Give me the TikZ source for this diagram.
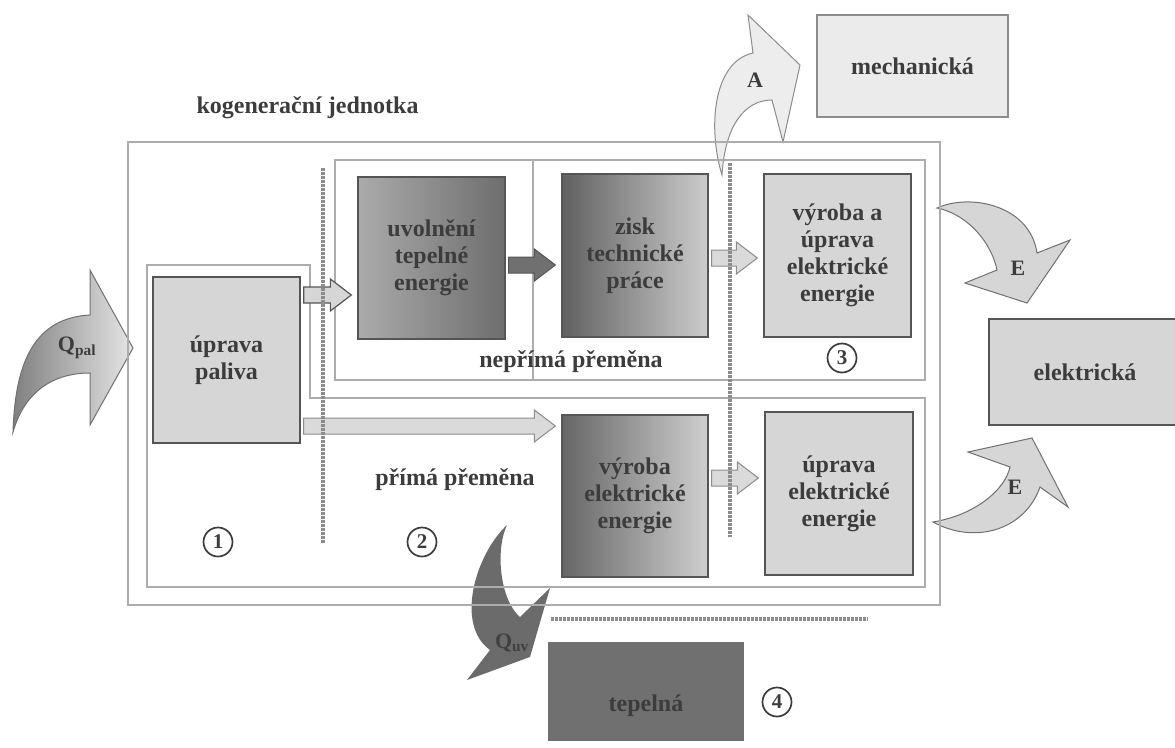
\documentclass[tikz,border=0pt]{standalone}
\usepackage{fontspec}
\setmainfont{Liberation Serif}
\usetikzlibrary{calc}

\definecolor{ink}{HTML}{3C3C3C}
\definecolor{boxline}{HTML}{555555}
\definecolor{boxfill}{HTML}{D6D6D6}
\definecolor{frameline}{HTML}{ADADAD}
\definecolor{dotgray}{HTML}{8C8C8C}
\definecolor{darkfill}{HTML}{707070}

\newcommand{\barrow}[4]{%
  \draw[#1] let \p1=(#2), \p2=(#3) in
    ({\x1+3pt},{\y2-(#4)+8pt}) -- ({\x2-27pt},{\y2-(#4)+8pt})
    -- ({\x2-27pt},{\y2-(#4)+16pt}) -- ({\x2-6pt},{\y2-(#4)})
    -- ({\x2-27pt},{\y2-(#4)-16pt}) -- ({\x2-27pt},{\y2-(#4)-8pt})
    -- ({\x1+3pt},{\y2-(#4)-8pt}) -- cycle;}

\tikzset{
  txt/.style={text=ink,font=\fontsize{24}{27}\selectfont\bfseries,align=center},
  stagebox/.style={txt,draw=boxline,line width=1.3pt,inner sep=0pt},
  litebox/.style={stagebox,fill=boxfill},
  frame/.style={draw=frameline,line width=1.6pt},
  dotline/.style={draw=dotgray,line width=3.5pt,dash pattern=on 2.5pt off 1.5pt},
  numcirc/.style={circle,draw=ink,line width=1.7pt,inner sep=0pt,minimum size=29pt,
    text=ink,font=\fontsize{21}{21}\selectfont\bfseries},
  litearrow/.style={fill=boxfill,draw=boxline,line width=1.2pt},
  palearrow/.style={fill=boxfill!90,draw=dotgray,line width=1pt},
  darkarrow/.style={fill=darkfill,draw=boxline,line width=1pt},
  bendarrow/.style={fill=boxfill,draw=dotgray!80!black,line width=1pt}
}

\begin{document}
\begin{tikzpicture}[x=1pt,y=-1pt]
  \useasboundingbox (0,0) rectangle (1175,747);
  \clip (0,0) rectangle (1175,747);

  \shadedraw[left color=black!50,right color=black!10,draw=dotgray!80!black,line width=1pt]
    (13,432) .. controls (15,370) and (30,318) .. (90,315) -- (90,270) -- (133,348)
    -- (90,425) -- (90,373) .. controls (55,373) and (25,390) .. (13,432) -- cycle;
  \filldraw[fill=black!7,draw=dotgray,line width=1pt]
    (722,175) .. controls (708,130) and (712,62) .. (753,53) -- (748,15) -- (800,65)
    -- (783,142) -- (772,100) .. controls (745,100) and (725,125) .. (722,175) -- cycle;
  \filldraw[bendarrow]
    (937,208) .. controls (970,193) and (1030,205) .. (1037,253) -- (1070,240) -- (1027,303)
    -- (965,283) -- (997,270) .. controls (992,245) and (970,215) .. (937,208) -- cycle;
  \filldraw[bendarrow]
    (933,522) .. controls (975,515) and (1005,490) .. (1010,467) -- (968,452) -- (1032,438)
    -- (1068,507) -- (1040,487) .. controls (1025,530) and (975,545) .. (933,522) -- cycle;
  \fill[black!58]
    (507,525) .. controls (475,555) and (455,625) .. (490,650) -- (467,680) -- (530,657)
    -- (550,588) -- (520,617) .. controls (500,600) and (495,550) .. (507,525) -- cycle;

  \draw[frame] (128,142) rectangle (940,605);
  \draw[frame] (147,265) -- (310,265) -- (310,398) -- (925,398) -- (925,587) -- (147,587) -- cycle;
  \draw[frame] (335,160) rectangle (925,380);
  \draw[frame] (533,160) -- (533,380);

  \node[txt,anchor=west] (kogen) at (193,108) {kogenerační jednotka};
  \node[litebox,minimum width=147pt,minimum height=166pt] (upal) at (226.5,360) {úprava\\paliva};
  \node[stagebox,left color=black!33,right color=black!57,minimum width=147pt,minimum height=162pt]
    (uvol) at (431.5,258) {uvolnění\\tepelné\\energie};
  \node[stagebox,left color=black!62,right color=black!20,minimum width=146pt,minimum height=163pt]
    (zisk) at (635,255.5) {zisk\\technické\\práce};
  \node[litebox,minimum width=147pt,minimum height=163pt] (vyup) at (837.5,255.5)
    {výroba a\\úprava\\elektrické\\energie};
  \node[stagebox,left color=black!60,right color=black!19,minimum width=146pt,minimum height=162pt]
    (vyel) at (635,496) {výroba\\elektrické\\energie};
  \node[litebox,minimum width=148pt,minimum height=163pt] (upel) at (839,493.5)
    {úprava\\elektrické\\energie};
  \node[stagebox,fill=darkfill,draw=darkfill,minimum width=194pt,minimum height=97pt]
    (tep) at (646,691.5) {\smash{\raisebox{-20pt}{tepelná}}};
  \node[stagebox,fill=black!8,draw=dotgray,minimum width=191pt,minimum height=102pt]
    (mech) at (912.5,66) {mechanická};
  \node[litebox,minimum width=192pt,minimum height=106pt] (elek) at (1085,372) {elektrická};

  \barrow{litearrow}{upal.east}{uvol.west}{37pt}
  \barrow{darkarrow}{uvol.east}{zisk.west}{9.5pt}
  \barrow{palearrow}{zisk.east}{vyup.west}{2.5pt}
  \barrow{palearrow}{upal.east}{vyel.west}{-70pt}
  \barrow{palearrow}{vyel.east}{upel.west}{-15.5pt}

  \draw[dotline] (323,168) -- (323,543);
  \draw[dotline] (730,163) -- (730,537);
  \draw[dotline] (551,619) -- (868,619);

  \node[txt] (neprima) at (571,362) {nepřímá přeměna};
  \node[txt] (prima) at (455,480) {přímá přeměna};
  \node[numcirc] (num1) at (218,542) {1};
  \node[numcirc] (num2) at (422,542) {2};
  \node[numcirc] (num3) at (842,358) {3};
  \node[numcirc] (num4) at (777,702) {4};
  \node[txt,font=\fontsize{22}{22}\selectfont\bfseries] (labA) at (755,80) {A};
  \node[txt,font=\fontsize{22}{22}\selectfont\bfseries] (labE1) at (1018,268) {E};
  \node[txt,font=\fontsize{22}{22}\selectfont\bfseries] (labE2) at (1015,487) {E};
  \node[txt,font=\fontsize{22}{22}\selectfont\bfseries] (labQpal) at (77,348) {Q\textsubscript{pal}};
  \node[txt,text=black!75,font=\fontsize{22}{22}\selectfont\bfseries] (labQuv) at (512,643) {Q\textsubscript{uv}};
\end{tikzpicture}
\end{document}
